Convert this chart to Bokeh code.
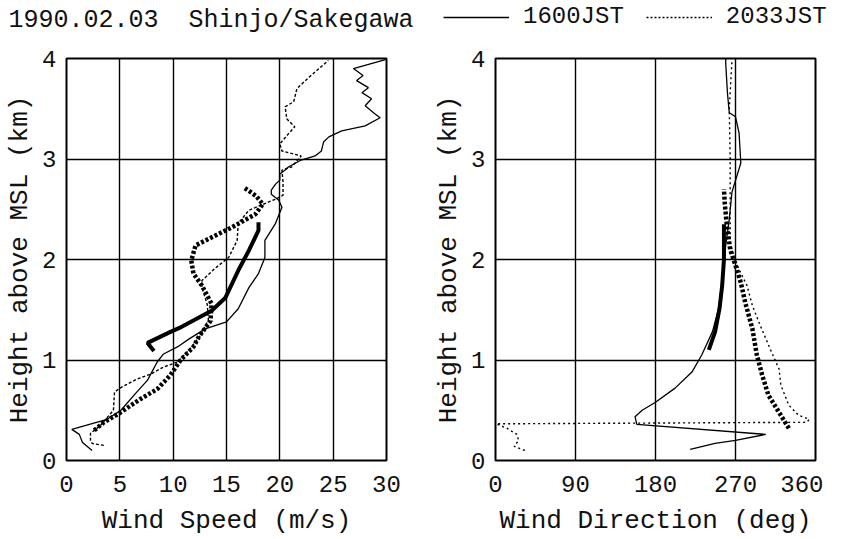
from bokeh.plotting import figure
from bokeh.layouts import column, row
from bokeh.models import Range1d, Label, Legend, LegendItem, FixedTicker
from bokeh.embed import file_html
from bokeh.resources import INLINE

FONT = "Liberation Mono"

TITLE = "1990.02.03 \u00a0Shinjo/Sakegawa"
SERIES_LABELS = ["1600JST", "2033JST"]
SPEED_TICKS = [0, 5, 10, 15, 20, 25, 30]
DIR_TICKS = [0, 90, 180, 270, 360]
HEIGHT_TICKS = [0, 1, 2, 3, 4]

# ---- Wind speed (m/s) vs height (km) ----
spd1600_h = [0.10, 0.18, 0.26, 0.31, 0.41, 0.50, 0.67, 0.80, 0.98, 1.06, 1.13, 1.21, 1.31, 1.38,
             1.51, 1.72, 1.86, 2.02, 2.19, 2.36, 2.52, 2.59, 2.65, 2.69, 2.75, 2.79, 2.85, 2.89,
             2.92, 2.99, 3.03, 3.08, 3.17, 3.22, 3.28, 3.33, 3.41, 3.45, 3.53, 3.60, 3.66, 3.71,
             3.78, 3.83, 3.90, 3.99]
spd1600_v = [2.4, 1.5, 1.2, 0.5, 3.8, 5.1, 6.5, 7.6, 8.5, 9.1, 10.4, 11.5, 13.0, 15.0,
             16.1, 17.1, 18.0, 18.6, 18.6, 19.6, 20.2, 19.9, 19.2, 19.2, 19.6, 20.0, 20.0, 20.5,
             20.8, 22.0, 23.3, 23.9, 24.1, 24.6, 25.8, 28.0, 29.4, 28.9, 28.0, 28.6, 27.7, 28.3,
             27.2, 27.8, 26.9, 29.9]

spd2033_h = [0.15, 0.17, 0.20, 0.27, 0.35, 0.45, 0.50, 0.68, 0.72, 0.81, 0.86, 0.93, 0.98, 1.10,
             1.25, 1.40, 1.55, 1.72, 1.79, 1.91, 2.02, 2.19, 2.36, 2.49, 2.57, 2.60, 2.64, 2.77,
             2.89, 2.92, 3.03, 3.08, 3.15, 3.25, 3.32, 3.40, 3.52, 3.57, 3.70, 3.81, 3.98]
spd2033_v = [3.5, 2.4, 2.25, 2.25, 3.2, 4.0, 4.4, 4.5, 5.0, 6.6, 7.9, 9.1, 10.4, 11.5,
             12.6, 13.3, 13.2, 12.7, 12.7, 13.9, 15.2, 16.0, 16.1, 17.1, 18.9, 19.6, 20.3, 20.3,
             20.2, 21.1, 22.0, 20.2, 20.0, 20.8, 21.4, 20.65, 20.5, 21.3, 21.6, 22.7, 24.55]

spd1600b_h = [1.09, 1.17, 1.28, 1.33, 1.49, 1.62, 1.89, 2.09, 2.29, 2.37]
spd1600b_v = [8.2, 7.6, 9.75, 10.8, 13.6, 14.9, 16.1, 17.1, 18.0, 18.0]

spd2033b_h = [0.30, 0.38, 0.48, 0.61, 0.71, 0.85, 1.00, 1.13, 1.23, 1.39, 1.56, 1.74, 1.86,
              1.99, 2.14, 2.22, 2.32, 2.45, 2.55, 2.63, 2.72]
spd2033b_v = [2.6, 3.5, 5.1, 6.9, 8.5, 9.75, 10.7, 11.9, 12.4, 13.5, 13.6, 12.7, 11.9,
              11.7, 12.1, 13.6, 15.5, 17.7, 18.4, 17.8, 16.6]

# ---- Wind direction (deg) vs height (km) ----
dir1600_h = [0.11, 0.17, 0.20, 0.26, 0.36, 0.435, 0.50, 0.58, 0.72, 0.88, 1.05, 1.28, 1.51, 1.74,
             1.97, 2.14, 2.40, 2.67, 2.96, 3.26, 3.42, 3.46, 3.65, 3.95, 4.0]
dir1600_d = [219, 247, 270, 304, 159, 157, 165, 180, 202, 221, 232, 244, 251, 254,
             257, 259, 263, 266, 276, 274, 270, 263, 261, 259, 259]

dir2033_h = [0.10, 0.14, 0.20, 0.26, 0.32, 0.365, 0.38, 0.41, 0.45, 0.55, 0.75, 0.91, 1.11,
             1.34, 1.54, 1.74, 1.90, 2.04, 2.17, 2.50, 3.00, 3.50, 3.98]
dir2033_d = [33, 21, 26, 24, 13, 1, 350, 353, 341, 330, 321, 319, 309,
             298, 289, 283, 274, 268, 264, 264, 264, 263, 266]

dir1600b_h = [1.10, 1.28, 1.51, 1.74, 2.00, 2.20, 2.35]
dir1600b_d = [240, 247, 252, 255, 257, 257, 257]

dir2033b_h = [0.32, 0.45, 0.65, 0.85, 1.05, 1.31, 1.57, 1.77, 1.94, 2.10, 2.36, 2.55, 2.70]
dir2033b_d = [330, 321, 307, 300, 294, 289, 281, 276, 270, 264, 260, 258, 257]


def panel(xmax, ticks, xlabel, bl, br):
    p = figure(frame_width=320, frame_height=402,
               x_range=Range1d(0, xmax), y_range=Range1d(0, 4),
               output_backend="svg", toolbar_location=None,
               min_border_left=bl, min_border_right=br,
               min_border_top=10, min_border_bottom=75)
    p.xaxis.ticker = FixedTicker(ticks=ticks)
    p.yaxis.ticker = FixedTicker(ticks=HEIGHT_TICKS)
    p.xaxis.axis_label = xlabel
    p.yaxis.axis_label = "Height above MSL (km)"
    for ax in (p.xaxis[0], p.yaxis[0]):
        ax.axis_line_color = None
        ax.major_tick_line_color = None
        ax.minor_tick_line_color = None
        ax.major_tick_in = 0
        ax.major_tick_out = 0
        ax.major_label_text_font = FONT
        ax.major_label_text_font_size = "24px"
        ax.major_label_text_color = "#111111"
        ax.axis_label_text_font = FONT
        ax.axis_label_text_font_size = "26px"
        ax.axis_label_text_font_style = "normal"
        ax.axis_label_text_color = "#111111"
    p.xaxis.major_label_standoff = 15
    p.xaxis.axis_label_standoff = 11
    p.yaxis.major_label_standoff = 10
    p.yaxis.axis_label_standoff = 4
    p.grid.grid_line_color = "black"
    p.grid.grid_line_width = 1.4
    p.grid.grid_line_alpha = 1.0
    p.outline_line_color = "black"
    p.outline_line_width = 2
    p.outline_line_alpha = 1.0
    return p


p1 = panel(30, SPEED_TICKS, "Wind Speed (m/s)", 66, 42)
p1.line(spd1600_v, spd1600_h, line_color="black", line_width=1.3)
p1.line(spd2033_v, spd2033_h, line_color="black", line_width=1.4, line_dash="3 2")
p1.line(spd1600b_v, spd1600b_h, line_color="black", line_width=4)
p1.line(spd2033b_v, spd2033b_h, line_color="black", line_width=4.5, line_dash="3 2")

p2 = panel(360, DIR_TICKS, "Wind Direction (deg)", 67, 8)
p2.line(dir1600_d, dir1600_h, line_color="black", line_width=1.3)
p2.line(dir2033_d, dir2033_h, line_color="black", line_width=1.4, line_dash="2 3")
p2.line(dir1600b_d, dir1600b_h, line_color="black", line_width=4)
p2.line(dir2033b_d, dir2033b_h, line_color="black", line_width=4.5, line_dash="3 2")

# header: title + legend (legend renderers hold the series data but lie outside the header's ranges)
hdr = figure(width=836, height=48, x_range=Range1d(-20, -10), y_range=Range1d(-20, -10),
             output_backend="svg", toolbar_location=None,
             x_axis_location=None, y_axis_location=None,
             min_border_left=0, min_border_right=0, min_border_top=0, min_border_bottom=0)
hdr.grid.visible = False
hdr.outline_line_color = None
r1 = hdr.line(dir1600_d, dir1600_h, line_color="black", line_width=1.4)
r2 = hdr.line(dir2033_d, dir2033_h, line_color="black", line_width=1.4, line_dash="2 2")
hdr.add_layout(Label(x=8, y=28, x_units="screen", y_units="screen", text=TITLE,
                     text_font=FONT, text_font_size="25px", text_baseline="middle",
                     text_color="#111111"))
legend = Legend(items=[LegendItem(label=SERIES_LABELS[0], renderers=[r1]),
                       LegendItem(label=SERIES_LABELS[1], renderers=[r2])],
                orientation="horizontal", location=(443, 18),
                glyph_width=66, glyph_height=20, label_standoff=14, spacing=22,
                padding=0, margin=0, border_line_color=None, background_fill_alpha=0,
                label_text_font=FONT, label_text_font_size="24px", label_text_color="#111111")
hdr.add_layout(legend)

layout = column(hdr, row(p1, p2))
open("out.html", "w").write(file_html(layout, INLINE))
